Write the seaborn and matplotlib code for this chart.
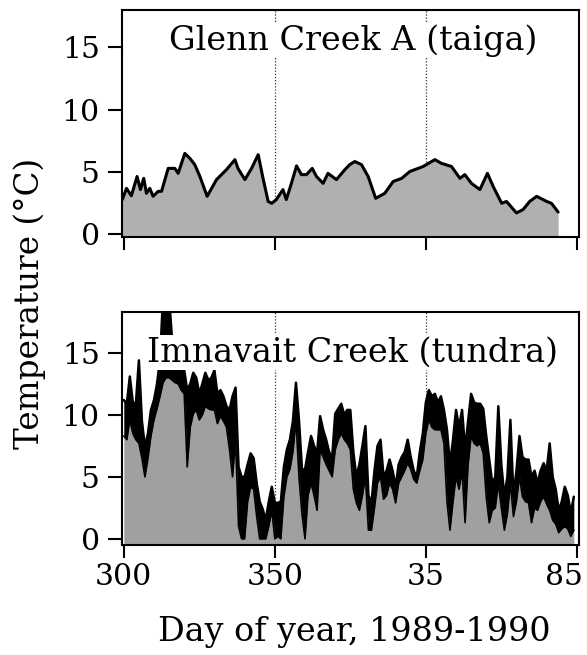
import matplotlib
matplotlib.use("Agg")
import matplotlib.pyplot as plt
import matplotlib.transforms as mtransforms
import seaborn as sns
import pandas as pd

# ---- Data ----
glenn_day = [299.5, 300.9, 302.5, 304.4, 305.5, 306.6, 307.5, 308.6, 309.7, 311.4,
             312.5, 314.7, 316.9, 318.0, 320.2, 321.9, 323.5, 325.2, 327.6, 330.7,
             334.0, 336.8, 337.8, 340.1, 342.3, 344.5, 346.1, 347.8, 349.0, 350.5,
             352.7, 353.8, 355.5, 357.2, 358.8, 360.5, 362.4, 363.8, 366.0, 367.6,
             370.4, 373.2, 374.8, 376.5, 378.7, 380.9, 383.4, 386.4, 389.2, 392.0,
             394.7, 399.1, 403.0, 405.2, 408.5, 411.3, 412.9, 415.1, 417.9, 420.4,
             422.3, 425.1, 426.7, 430.0, 432.2, 434.4, 436.7, 440.0, 441.6, 443.8]
glenn_temp = [2.8, 3.7, 3.1, 4.65, 3.6, 4.5, 3.3, 3.7, 3.06, 3.46,
              3.46, 5.3, 5.3, 4.9, 6.5, 6.1, 5.6, 4.65, 3.06, 4.4,
              5.2, 6.0, 5.3, 4.4, 5.3, 6.4, 4.5, 2.65, 2.5, 2.8,
              3.6, 2.8, 4.1, 5.5, 4.8, 4.8, 5.3, 4.65, 4.1, 4.9,
              4.4, 5.2, 5.6, 5.85, 5.6, 4.65, 2.9, 3.3, 4.25, 4.5,
              5.05, 5.45, 6.0, 5.7, 5.45, 4.5, 4.8, 4.1, 3.6, 4.9,
              3.85, 2.5, 2.65, 1.73, 2.0, 2.65, 3.06, 2.65, 2.5, 1.8]

imn_day = list(range(300, 450))
imn_max = [11.2, 10.9, 13.1, 11.0, 10.9, 14.4, 9.5, 7.4, 8.5, 10.4,
           11.2, 12.5, 14.5, 19.5, 19.5, 19.5, 16.0, 14.5, 14.5, 14.0,
           13.6, 12.0, 12.5, 13.4, 13.0, 11.7, 12.5, 13.4, 12.8, 13.0,
           13.6, 11.7, 12.0, 11.5, 10.7, 10.4, 11.5, 12.2, 5.8, 5.0,
           5.0, 6.0, 6.9, 6.5, 4.5, 3.0, 2.4, 1.5, 3.0, 4.2,
           2.9, 2.9, 3.0, 5.8, 7.2, 8.0, 9.5, 12.6, 9.6, 5.6,
           5.6, 7.0, 8.3, 7.5, 6.9, 9.9, 8.8, 8.0, 7.0, 6.6,
           10.1, 10.5, 10.9, 10.0, 10.4, 10.4, 7.0, 5.0, 6.0, 7.5,
           9.1, 3.5, 2.9, 5.5, 7.5, 8.0, 5.0, 5.5, 6.4, 5.5,
           4.2, 6.0, 6.6, 7.0, 8.0, 6.6, 5.5, 5.0, 7.0, 8.5,
           11.0, 12.0, 11.5, 11.7, 11.0, 11.5, 10.4, 8.8, 6.0, 8.0,
           10.4, 9.0, 10.4, 7.2, 9.5, 11.7, 11.0, 10.9, 10.9, 10.5,
           8.3, 6.4, 4.5, 5.0, 10.7, 6.0, 3.4, 5.0, 9.6, 3.4,
           5.5, 8.3, 6.6, 6.4, 6.4, 5.0, 5.5, 4.5, 5.5, 6.1,
           5.5, 7.7, 5.0, 4.0, 2.3, 3.0, 4.2, 3.5, 2.1, 3.4]
imn_min = [8.3, 8.0, 9.6, 8.5, 8.0, 7.7, 6.5, 5.0, 6.5, 8.3,
           9.6, 10.5, 11.5, 12.6, 13.0, 13.0, 12.8, 12.6, 12.5, 12.0,
           11.7, 5.8, 9.0, 10.1, 10.4, 9.6, 10.0, 10.7, 10.5, 10.4,
           10.4, 9.3, 9.9, 9.5, 9.0, 7.2, 5.0, 8.0, 1.0, 0.0,
           0.0, 3.0, 4.2, 4.0, 1.8, 0.0, 0.0, 0.0, 1.0, 2.3,
           0.0, 0.2, 0.0, 3.4, 5.0, 5.6, 7.0, 9.6, 5.0, 2.0,
           0.0, 3.5, 4.5, 3.5, 2.3, 7.2, 6.6, 6.0, 5.5, 5.0,
           7.2, 8.0, 8.5, 8.0, 7.7, 7.2, 4.0, 2.9, 2.3, 3.5,
           5.0, 0.7, 0.7, 2.5, 4.5, 5.0, 3.2, 3.5, 4.5, 4.0,
           2.9, 4.5, 5.0, 5.5, 6.1, 5.6, 4.8, 4.5, 5.5, 6.4,
           8.5, 9.6, 9.0, 8.8, 8.8, 8.8, 7.7, 3.0, 0.7, 3.0,
           5.0, 4.0, 5.5, 1.3, 6.0, 8.3, 7.7, 7.5, 7.7, 6.9,
           3.4, 1.3, 2.3, 2.5, 4.5, 2.5, 0.7, 2.0, 4.5, 1.8,
           3.0, 5.0, 3.4, 3.0, 2.9, 1.3, 2.5, 2.3, 3.0, 3.4,
           2.8, 2.3, 1.5, 1.2, 0.5, 0.8, 1.0, 0.8, 0.2, 0.7]

x_ticks = [300, 350, 400, 450]
x_ticklabels = ["300", "350", "35", "85"]
y_ticks = [0, 5, 10, 15]
titles = ["Glenn Creek A (taiga)", "Imnavait Creek (tundra)"]
marker_days = [350, 400]

glenn_df = pd.DataFrame({"day": glenn_day, "temp": glenn_temp})
imn_df = pd.DataFrame({"day": imn_day, "tmax": imn_max, "tmin": imn_min})

sns.set_style("ticks")
plt.rcParams['font.family'] = ['DejaVu Serif']
plt.rcParams['text.color'] = 'black'
plt.rcParams['axes.labelcolor'] = 'black'
plt.rcParams['xtick.color'] = 'black'
plt.rcParams['ytick.color'] = 'black'

FS = 21.5
fig = plt.figure(figsize=(5.87, 6.55), dpi=100)
ax1 = fig.add_axes([0.2078, 0.6382, 0.7785, 0.3466])
ax2 = fig.add_axes([0.2078, 0.1679, 0.7785, 0.3557])

# Top panel
ax1.fill_between(glenn_df["day"], -1, glenn_df["temp"], color='#b0b0b0', lw=0, zorder=2)
sns.lineplot(data=glenn_df, x="day", y="temp", ax=ax1, color='black', lw=2.2, zorder=3)
ax1.set_ylim(-0.2, 18.0)

# Bottom panel
ax2.fill_between(imn_df["day"], -1, imn_df["tmin"], color='#a0a0a0', lw=0, zorder=2)
ax2.fill_between(imn_df["day"], imn_df["tmin"], imn_df["tmax"], color='black', lw=0, zorder=3)
sns.lineplot(data=imn_df, x="day", y="tmax", ax=ax2, color='black', lw=1.8, zorder=4)
sns.lineplot(data=imn_df, x="day", y="tmin", ax=ax2, color='black', lw=1.2, zorder=4)
ax2.set_ylim(-0.5, 18.3)

for ax, title, ty in [(ax1, titles[0], 0.866), (ax2, titles[1], 0.826)]:
    ax.set_xlim(299.4, 450.7)
    for d in marker_days:
        ax.axvline(d, color='#333333', lw=0.9, ls=(0, (1, 1.5)), zorder=1)
    ax.set_xticks(x_ticks)
    ax.set_yticks(y_ticks)
    ax.set_xlabel("")
    ax.set_ylabel("")
    for sp in ax.spines.values():
        sp.set_visible(True)
        sp.set_linewidth(1.5)
        sp.set_color('black')
    ax.tick_params(direction='out', length=10, width=1.5, labelsize=FS,
                   colors='black', pad=6)
    ax.tick_params(axis='x', length=9, pad=4)
    ax.text(0.505, ty, title, transform=ax.transAxes, ha='center', va='center',
            fontsize=24, color='black', zorder=6,
            bbox=dict(facecolor='white', edgecolor='none', pad=1.0))

ax1.set_xticklabels([])
ax2.set_xticklabels(x_ticklabels)
last = ax2.get_xticklabels()[-1]
last.set_horizontalalignment('right')
last.set_transform(last.get_transform() +
                   mtransforms.ScaledTranslation(6 / 100, 0, fig.dpi_scale_trans))

fig.text(0.051, 0.537, "Temperature (°C)", rotation=90, ha='center', va='center',
         fontsize=23.5, color='black')
fig.text(0.603, 0.035, "Day of year, 1989-1990", ha='center', va='center',
         fontsize=24, color='black')

fig.savefig("out.png", dpi=100, facecolor='white')
